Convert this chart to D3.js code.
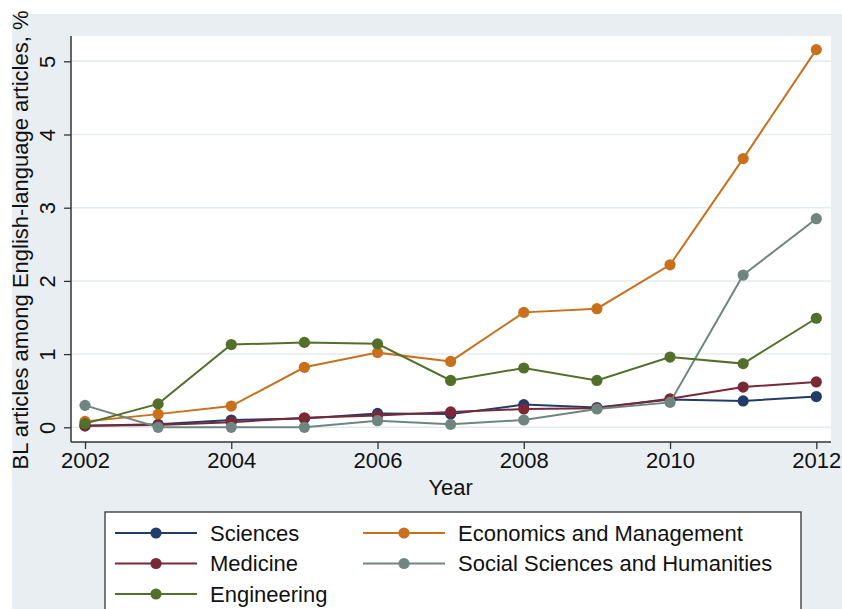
<!DOCTYPE html>
<html><head><meta charset="utf-8">
<script src="https://cdn.jsdelivr.net/npm/d3@7"></script>
<style>body{margin:0;background:#fff}svg{display:block;font-family:"Liberation Sans",Arial,sans-serif}</style>
</head><body><svg id="c" width="842" height="609"></svg>
<script>
const years = [2002,2003,2004,2005,2006,2007,2008,2009,2010,2011,2012];
const sciences    = [0.02,0.04,0.10,0.12,0.19,0.18,0.31,0.27,0.38,0.36,0.42];
const economics   = [0.08,0.18,0.29,0.82,1.02,0.90,1.57,1.62,2.22,3.67,5.16];
const medicine    = [0.02,0.03,0.07,0.13,0.16,0.21,0.25,0.26,0.39,0.55,0.62];
const socialSci   = [0.30,0.00,0.00,0.00,0.09,0.04,0.10,0.25,0.34,2.08,2.85];
const engineering = [0.05,0.32,1.13,1.16,1.14,0.64,0.81,0.64,0.96,0.87,1.49];
const seriesNames = ["Sciences","Economics and Management","Medicine","Social Sciences and Humanities","Engineering"];
const seriesData = [sciences,economics,medicine,socialSci,engineering];
const seriesColors = ["#223c6a","#c9701d","#7a2836","#6f8680","#53702b"];
const xTicks = [2002,2004,2006,2008,2010,2012];
const yTicks = [0,1,2,3,4,5];
const yTitle = "BL articles among English-language articles, %";
const xTitle = "Year";

const FS = 22;
const svg = d3.select("#c");
svg.append("rect").attr("x",12).attr("y",14).attr("width",830).attr("height",595).attr("fill","#e8eef2");
const L=71,R=831,T=36,B=442;
svg.append("rect").attr("x",L).attr("y",T).attr("width",R-L).attr("height",B-T).attr("fill","#fff");
const x = d3.scaleLinear().domain([2002,2012]).range([85,816.3]);
const y = d3.scaleLinear().domain([0,5]).range([427.3,61.3]);

// grid
svg.append("g").selectAll("line").data(yTicks).join("line")
  .attr("x1",L).attr("x2",R).attr("y1",d=>y(d)).attr("y2",d=>y(d))
  .attr("stroke","#e4ebf0").attr("stroke-width",1.5);

// axes
const ya = svg.append("g").attr("transform",`translate(${L},0)`)
  .call(d3.axisLeft(y).tickValues(yTicks).tickSize(7).tickPadding(4).tickFormat(d3.format("d")));
ya.select(".domain").attr("d",`M0,${T}V${B}`).attr("stroke","#333").attr("stroke-width",1.5);
ya.selectAll(".tick line").attr("stroke","#333").attr("stroke-width",1.3);
ya.selectAll(".tick text").attr("font-size",FS).attr("fill","#111")
  .attr("transform","rotate(-90)").attr("x",0).attr("y",-16).attr("dy","0").attr("text-anchor","middle");

const xa = svg.append("g").attr("transform",`translate(0,${B})`)
  .call(d3.axisBottom(x).tickValues(xTicks).tickSize(7).tickPadding(3).tickFormat(d3.format("d")));
xa.select(".domain").attr("d",`M${L},0H${R}`).attr("stroke","#333").attr("stroke-width",1.5);
xa.selectAll(".tick line").attr("stroke","#333").attr("stroke-width",1.3);
xa.selectAll(".tick text").attr("font-size",FS).attr("fill","#111").attr("dy","0.71em");

svg.append("text").attr("x",x(2007)).attr("y",495).attr("text-anchor","middle").attr("font-size",FS).attr("fill","#111").text(xTitle);
svg.append("text").attr("transform",`translate(28,240) rotate(-90)`).attr("text-anchor","middle").attr("font-size",FS).attr("fill","#111").text(yTitle);

// lines
const line = d3.line().x((d,i)=>x(years[i])).y(d=>y(d));
seriesData.forEach((s,k)=>{
  const g=svg.append("g");
  g.append("path").attr("d",line(s)).attr("fill","none").attr("stroke",seriesColors[k]).attr("stroke-width",2);
  g.selectAll("circle").data(s).join("circle").attr("cx",(d,i)=>x(years[i])).attr("cy",d=>y(d)).attr("r",5.6).attr("fill",seriesColors[k]);
});

// legend
svg.append("rect").attr("x",105).attr("y",512).attr("width",696).attr("height",110).attr("fill","#fff").attr("stroke","#333").attr("stroke-width",1.3);
const colX=[115,363], rowY=[533,563.5,594];
seriesNames.forEach((n,k)=>{
  const cx=colX[k%2], cy=rowY[Math.floor(k/2)];
  svg.append("line").attr("x1",cx).attr("x2",cx+82).attr("y1",cy).attr("y2",cy).attr("stroke",seriesColors[k]).attr("stroke-width",2);
  svg.append("circle").attr("cx",cx+41).attr("cy",cy).attr("r",5.6).attr("fill",seriesColors[k]);
  svg.append("text").attr("x",cx+95).attr("y",cy).attr("dy","0.35em").attr("font-size",FS).attr("fill","#111").text(n);
});
</script></body></html>
